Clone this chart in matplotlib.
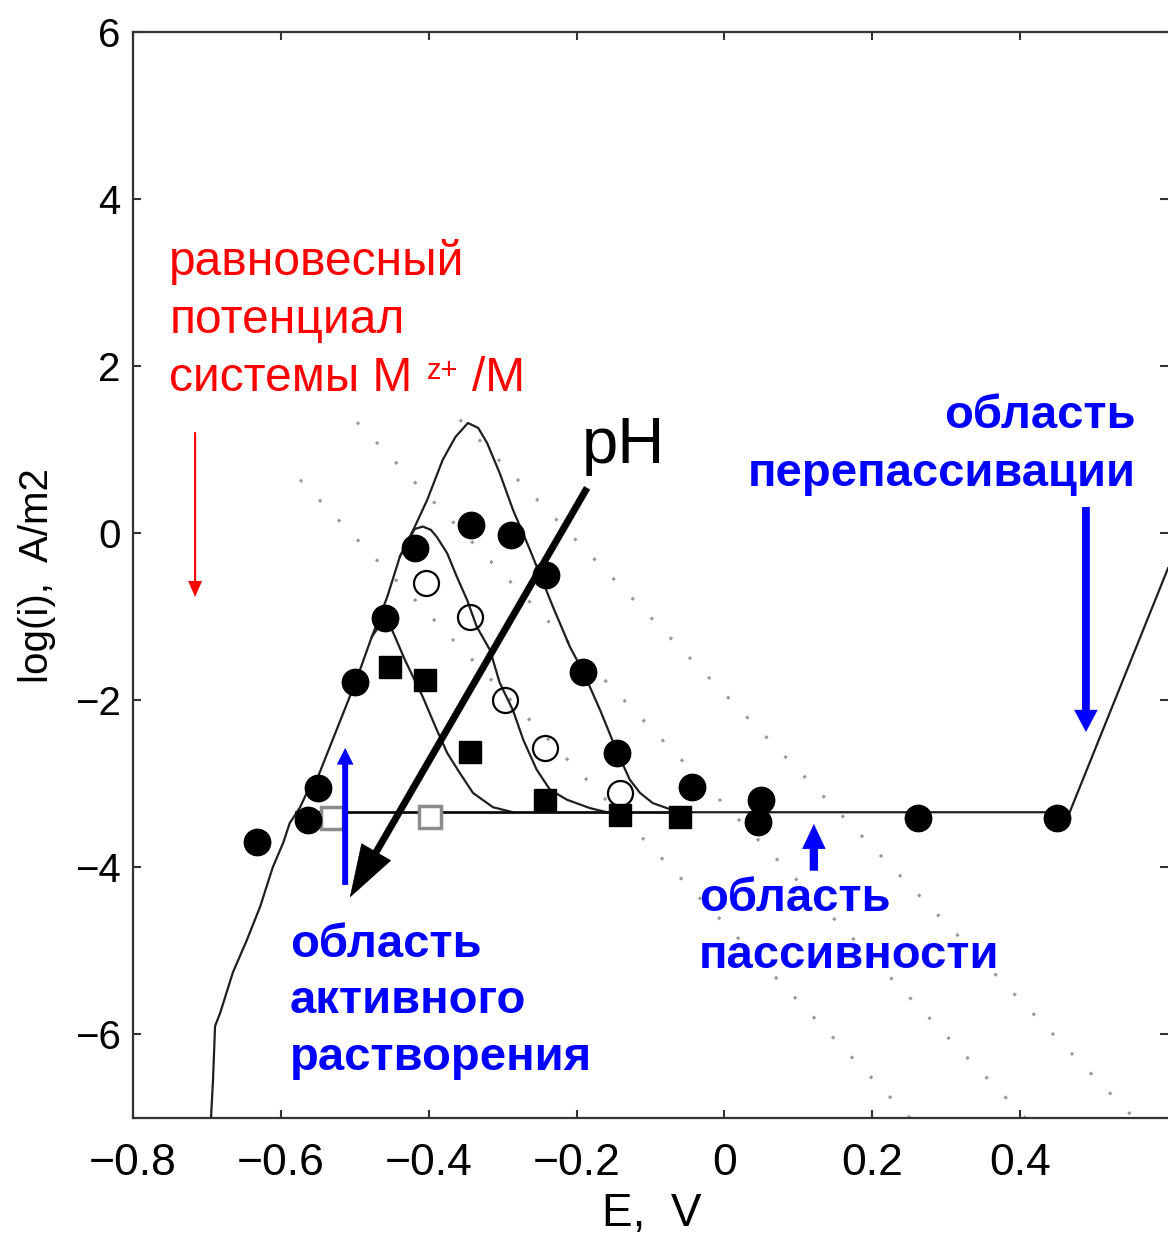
import matplotlib
matplotlib.use("Agg")
import matplotlib.pyplot as plt

plt.rcParams['font.family'] = ['Liberation Sans', 'DejaVu Sans']
NARROW = ['Liberation Sans Narrow', 'Liberation Sans', 'DejaVu Sans']

# polarisation curves (E in V, log i)
outer_E = [-0.6945, -0.6918, -0.689, -0.682, -0.665, -0.646, -0.628, -0.611, -0.597, -0.588,
           -0.574, -0.565, -0.550, -0.498, -0.477, -0.456, -0.439, -0.419, -0.402, -0.381,
           -0.364, -0.347, -0.333, -0.321, -0.304, -0.286, -0.263, -0.232, -0.209, -0.191,
           -0.168, -0.145, -0.128, -0.114, -0.097, -0.078, -0.060, 0.467, 0.60]
outer_L = [-7.0, -6.55, -5.90, -5.74, -5.26, -4.87, -4.47, -4.00, -3.71, -3.47,
           -3.28, -3.11, -2.92, -1.76, -1.24, -0.76, -0.28, 0.075, 0.40, 0.88,
           1.15, 1.32, 1.26, 1.08, 0.72, 0.28, -0.20, -0.88, -1.36, -1.66,
           -2.12, -2.62, -2.95, -3.11, -3.23, -3.29, -3.34, -3.34, -0.42]

mid_E = [-0.439, -0.419, -0.408, -0.397, -0.389, -0.375, -0.362, -0.348, -0.335, -0.317,
         -0.304, -0.286, -0.272, -0.254, -0.236, -0.213, -0.182, -0.159]
mid_L = [-0.28, 0.05, 0.08, 0.04, -0.045, -0.24, -0.52, -0.80, -1.12, -1.40,
         -1.79, -2.12, -2.475, -2.83, -3.07, -3.19, -3.29, -3.34]

inner_E = [-0.477, -0.466, -0.458, -0.449, -0.432, -0.408, -0.389, -0.375, -0.358, -0.340, -0.313, -0.286]
inner_L = [-1.24, -1.10, -1.08, -1.17, -1.52, -1.96, -2.355, -2.63, -2.87, -3.11, -3.28, -3.34]

plateau_E = [-0.58, -0.06]
plateau_L = [-3.34, -3.34]

# experimental points
fc_E = [-0.632, -0.563, -0.550, -0.500, -0.459, -0.419, -0.343, -0.289, -0.241, -0.191,
        -0.145, -0.044, 0.046, 0.050, 0.262, 0.450]
fc_L = [-3.70, -3.43, -3.05, -1.78, -1.01, -0.18, 0.10, -0.02, -0.50, -1.66,
        -2.63, -3.04, -3.46, -3.19, -3.41, -3.41]
oc_E = [-0.404, -0.344, -0.297, -0.243, -0.141]
oc_L = [-0.60, -1.00, -2.00, -2.57, -3.11]
fs_E = [-0.452, -0.405, -0.344, -0.243, -0.141, -0.060]
fs_L = [-1.60, -1.76, -2.62, -3.19, -3.37, -3.40]
os_E = [-0.531, -0.398]
os_L = [-3.41, -3.40]

# faint dotted guide lines
dot_E = [(-0.358, 0.554), (-0.497, 0.407), (-0.574, 0.251)]
dot_L = [(1.36, -7.0), (1.33, -7.0), (0.64, -7.0)]

xticks = [-0.8, -0.6, -0.4, -0.2, 0.0, 0.2, 0.4]
xtick_labels = ['\u22120.8', '\u22120.6', '\u22120.4', '\u22120.2', '0', '0.2', '0.4']
yticks = [-6, -4, -2, 0, 2, 4, 6]
ytick_labels = ['\u22126', '\u22124', '\u22122', '0', '2', '4', '6']

fig = plt.figure(figsize=(11.68, 12.40), dpi=100)
ax = fig.add_axes([133 / 1168, 1 - 1118 / 1240, 1 - 133 / 1168, 1086 / 1240])
ax.set_xlim(-0.8, 0.6)
ax.set_ylim(-7, 6)

for e, l in zip(dot_E, dot_L):
    ax.plot(e, l, color='0.6', lw=2.2, ls=(0, (1, 8)), zorder=1)

ax.plot(outer_E, outer_L, color='0.12', lw=1.6, zorder=2)
ax.plot(mid_E, mid_L, color='0.12', lw=1.6, zorder=2)
ax.plot(inner_E, inner_L, color='0.12', lw=1.6, zorder=2)
ax.plot(plateau_E, plateau_L, color='0.05', lw=2.0, zorder=2)

ax.plot(os_E, os_L, 's', ms=16, mfc='white', mec='0.55', mew=2.5, ls='none', zorder=3)
ax.plot(fs_E, fs_L, 's', ms=16, mfc='black', mec='black', mew=1, ls='none', zorder=4)
ax.plot(oc_E, oc_L, 'o', ms=18, mfc='none', mec='black', mew=1.6, ls='none', zorder=4)
ax.plot(fc_E, fc_L, 'o', ms=19, mfc='black', mec='black', mew=1, ls='none', zorder=4)

# pH arrow
ax.annotate('', xy=(-0.506, -4.35), xytext=(-0.186, 0.54),
            arrowprops=dict(arrowstyle='simple,head_length=37,head_width=24,tail_width=4.5',
                            mutation_scale=1, fc='black', ec='black', lw=0.5,
                            shrinkA=0, shrinkB=0), zorder=5)
ax.text(-0.193, 0.84, 'pH', fontsize=47, color='black', ha='left', va='baseline', zorder=6)

# red arrow and text
ax.annotate('', xy=(-0.716, -0.763), xytext=(-0.716, 1.21),
            arrowprops=dict(arrowstyle='simple,head_length=11.5,head_width=10,tail_width=1.5',
                            mutation_scale=1, fc='red', ec='none', shrinkA=0, shrinkB=0))
red = dict(color='red', fontsize=34.5, ha='left', va='baseline')
ax.text(-0.751, 3.09, 'равновесный', **red)
ax.text(-0.751, 2.397, 'потенциал', **red)
ax.text(-0.751, 1.70, 'системы M', **red)
ax.text(-0.403, 1.85, 'z+', color='red', fontsize=21, ha='left', va='baseline')
ax.text(-0.3415, 1.70, '/M', **red)

# blue arrows and labels
blue = dict(color='#0000ff', fontsize=34, fontweight='bold', va='baseline')
ax.annotate('', xy=(0.489, -2.38), xytext=(0.489, 0.314),
            arrowprops=dict(arrowstyle='simple,head_length=16,head_width=17,tail_width=5.6',
                            mutation_scale=1, fc='#0000ff', ec='none', shrinkA=0, shrinkB=0))
ax.text(0.557, 1.26, 'область', ha='right', **blue)
ax.text(0.557, 0.565, 'перепассивации', ha='right', **blue)

ax.annotate('', xy=(0.121, -3.48), xytext=(0.121, -4.04),
            arrowprops=dict(arrowstyle='simple,head_length=18,head_width=17,tail_width=6',
                            mutation_scale=1, fc='#0000ff', ec='none', shrinkA=0, shrinkB=0))
ax.text(-0.0344, -4.52, 'область', ha='left', **blue)
ax.text(-0.0344, -5.204, 'пассивности', ha='left', **blue)

ax.annotate('', xy=(-0.513, -2.57), xytext=(-0.513, -4.21),
            arrowprops=dict(arrowstyle='simple,head_length=12,head_width=12,tail_width=4.3',
                            mutation_scale=1, fc='#0000ff', ec='none', shrinkA=0, shrinkB=0))
ax.text(-0.5876, -5.07, 'область', ha='left', **blue)
ax.text(-0.5876, -5.743, 'активного', ha='left', **blue)
ax.text(-0.5876, -6.425, 'растворения', ha='left', **blue)

# axes styling
for side in ['left', 'bottom', 'top']:
    ax.spines[side].set_linewidth(1.6)
    ax.spines[side].set_color('0.2')
ax.spines['right'].set_visible(False)
ax.set_xticks(xticks)
ax.set_xticklabels(xtick_labels)
ax.set_yticks(yticks)
ax.set_yticklabels(ytick_labels)
ax.tick_params(axis='both', direction='in', length=6, width=1.5, color='0.2',
               top=True, right=True)
ax.tick_params(axis='x', labelsize=32, pad=18)
ax.tick_params(axis='y', labelsize=29, pad=9)
for lab in ax.get_xticklabels():
    lab.set_fontfamily(NARROW)

fig.text(652 / 1168, 1 - 1236 / 1240, 'E,  V', fontsize=33, family=NARROW,
         ha='center', va='bottom')
fig.text(37 / 1168, 1 - 576 / 1240, 'log(i),  A/m2', fontsize=29, family=NARROW,
         rotation=90, ha='center', va='center')

fig.savefig('out.png', dpi=100)
